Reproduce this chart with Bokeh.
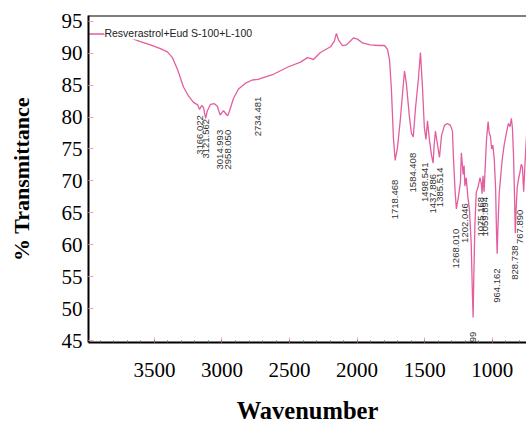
import math
from bokeh.plotting import figure
from bokeh.models import Range1d, FixedTicker, Label, ColumnDataSource, Span
from bokeh.core.properties import value
from bokeh.embed import file_html
from bokeh.resources import INLINE

# Spectrum (wavenumber cm-1, % transmittance)
wavenumber = [3988, 3892, 3789, 3678, 3604, 3530, 3456, 3404, 3367, 3330, 3285, 3248,
              3211, 3180, 3166, 3150, 3137, 3121, 3108, 3085, 3056, 3034, 3014, 2989,
              2967, 2958, 2945, 2915, 2878, 2826, 2775, 2734, 2678, 2619, 2516, 2419,
              2367, 2345, 2323, 2271, 2197, 2168, 2153, 2138, 2108, 2079, 2049, 2027,
              1997, 1960, 1901, 1842, 1797, 1775, 1760, 1746, 1731, 1718, 1701, 1679,
              1664, 1649, 1635, 1613, 1598, 1584, 1568, 1546, 1531, 1516, 1502, 1490,
              1479, 1464, 1449, 1437, 1430, 1420, 1405, 1390, 1375, 1353, 1331, 1309,
              1294, 1287, 1275, 1265, 1250, 1235, 1228, 1215, 1208, 1202, 1192, 1180,
              1168, 1155, 1146, 1141, 1136, 1128, 1118, 1105, 1090, 1080, 1075, 1068,
              1060, 1052, 1042, 1030, 1022, 1013, 1004, 995, 985, 975, 968, 963,
              957, 948, 938, 925, 910, 895, 880, 868, 858, 850, 842, 834,
              829, 823, 815, 805, 795, 785, 776, 770, 767, 761, 754, 746]
transmittance = [93.0, 93.0, 92.85, 92.4, 91.8, 91.3, 90.7, 90.2, 89.3, 87.5, 84.7, 83.3,
                 82.3, 81.9, 81.2, 81.8, 81.5, 79.8, 81.0, 82.0, 82.1, 81.7, 80.3, 81.0,
                 80.4, 80.2, 80.9, 82.9, 84.4, 85.3, 85.8, 85.9, 86.3, 86.7, 87.8, 88.6,
                 89.3, 89.2, 89.0, 90.1, 91.0, 91.9, 93.1, 92.1, 91.2, 91.3, 91.9, 92.4,
                 92.2, 91.6, 91.3, 91.2, 91.2, 90.6, 89.0, 84.4, 76.7, 73.2, 75.2, 79.8,
                 83.6, 87.2, 85.2, 80.1, 77.5, 76.9, 81.3, 86.0, 90.1, 84.7, 78.3, 76.5,
                 79.4, 76.4, 74.0, 72.8, 75.5, 77.8, 75.7, 73.7, 77.1, 78.7, 79.0, 78.7,
                 77.8, 73.7, 68.6, 65.6, 67.5, 69.8, 74.4, 71.0, 72.4, 69.2, 70.5, 67.5,
                 65.5, 60.0, 52.0, 48.6, 55.0, 63.0, 68.2, 69.0, 70.5, 69.5, 68.0, 70.8,
                 68.3, 72.0, 76.5, 79.3, 77.5, 77.0, 75.0, 75.6, 73.5, 69.0, 62.0, 58.6,
                 63.0, 68.0, 70.5, 73.5, 75.8, 77.5, 79.0, 78.5, 79.8, 78.2, 74.0, 67.0,
                 61.8, 65.5, 69.0, 70.3, 71.3, 72.6, 72.2, 69.5, 68.3, 71.0, 74.0, 77.0]

# Peak annotations: position (wavenumber), top of label (% T), text
peak_wn = [3166, 3121, 3014, 2958, 2734, 1718, 1584, 1498, 1437, 1385, 1268, 1202,
           1080, 1056, 964, 828, 795, 1141]
peak_top = [80.3, 79.7, 78.0, 78.0, 83.2, 70.2, 74.4, 72.9, 71.1, 72.1, 62.5, 66.5,
            67.5, 67.5, 56.3, 59.9, 65.5, 46.4]
peak_text = ["3166.022", "3121.562", "3014.993", "2958.050", "2734.481", "1718.468",
             "1584.408", "1498.541", "1437.886", "1385.514", "1268.010", "1202.046",
             "1075.168", "1059.894", "964.162", "828.738", "767.890", "1145.399"]

x_major = [3500, 3000, 2500, 2000, 1500, 1000]
x_minor = list(range(3900, 700, -100))
y_major = [45, 50, 55, 60, 65, 70, 75, 80, 85, 90, 95]

x_lo, x_hi = 3988, 746
y_lo, y_hi = 44.7, 95.9

p = figure(width=526, height=426, output_backend="svg", toolbar_location=None,
           x_range=Range1d(x_lo, x_hi), y_range=Range1d(y_lo, y_hi),
           min_border_left=88, min_border_top=15, min_border_bottom=77, min_border_right=0)
p.background_fill_color = "white"
p.border_fill_color = "white"
p.xgrid.visible = False
p.ygrid.visible = False
p.outline_line_color = None

# top frame line (the right edge is open, as in the reference)
p.add_layout(Span(location=y_hi, dimension="width", line_color="black", line_width=2))

p.xaxis.ticker = FixedTicker(ticks=x_major, minor_ticks=x_minor)
p.yaxis.ticker = FixedTicker(ticks=y_major)

for ax in (p.xaxis[0], p.yaxis[0]):
    ax.axis_line_color = "black"
    ax.axis_line_width = 2
    ax.major_tick_in = 5
    ax.major_tick_out = 0
    ax.major_tick_line_color = "#f29ac0"
    ax.major_tick_line_width = 1
    ax.major_label_text_font = "Liberation Serif"
    ax.major_label_text_font_size = "21px"
    ax.major_label_text_color = "black"
    ax.axis_label_text_font = "Liberation Serif"
    ax.axis_label_text_font_style = "bold"
    ax.axis_label_text_color = "black"

p.xaxis.axis_label_text_font_size = "24.5px"
p.yaxis.axis_label_text_font_size = "22px"
p.xaxis.minor_tick_in = 2
p.xaxis.minor_tick_out = 0
p.xaxis.minor_tick_line_color = "#666666"
p.yaxis.minor_tick_line_color = None
p.xaxis.major_label_standoff = 20
p.xaxis.axis_label_standoff = 17
p.yaxis.major_label_standoff = 6
p.yaxis.axis_label_standoff = 25
p.xaxis.axis_label = "Wavenumber"
p.yaxis.axis_label = "% Transmittance"

p.line(wavenumber, transmittance, line_color="#e35d9f", line_width=1.3)

src = ColumnDataSource(dict(x=peak_wn, y=peak_top, t=peak_text))
p.text(x="x", y="y", text="t", source=src, angle=math.pi / 2,
       text_align="right", text_baseline="middle",
       text_font=value("Liberation Sans"), text_font_size="9.5px", text_color="#333333")

p.add_layout(Label(x=3870, y=93.1, text="Resverastrol+Eud S-100+L-100",
                   text_font="Liberation Sans", text_font_size="10.5px",
                   text_color="#222222", text_baseline="middle",
                   background_fill_color="white"))

open("out.html", "w").write(file_html(p, INLINE))
